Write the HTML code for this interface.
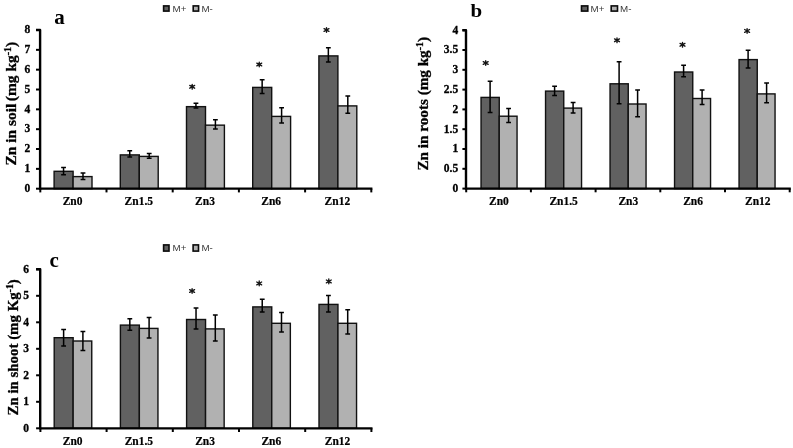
<!DOCTYPE html>
<html><head><meta charset="utf-8"><title>Zn charts</title>
<style>
html,body{margin:0;padding:0;background:#fff;}
body{width:793px;height:448px;overflow:hidden;font-family:"Liberation Serif",serif;}
svg{display:block;will-change:transform;opacity:0.999;}
.tk{font-family:"Liberation Serif",serif;font-weight:bold;font-size:11.5px;fill:#000;stroke:#000;stroke-width:0.3px;}
.xl{font-family:"Liberation Serif",serif;font-weight:bold;font-size:11.5px;fill:#000;stroke:#000;stroke-width:0.2px;}
.st{font-family:"Liberation Sans",sans-serif;font-size:15px;fill:#222;}
.lg{font-family:"Liberation Sans",sans-serif;font-size:8.9px;fill:#3a3a3a;}
.pl{font-family:"Liberation Serif",serif;font-weight:bold;font-size:21px;fill:#000;}
.yt{font-family:"Liberation Serif",serif;font-weight:bold;font-size:14.6px;fill:#000;stroke:#000;stroke-width:0.3px;}
</style></head><body>
<svg width="793" height="448" viewBox="0 0 793 448">
<rect width="793" height="448" fill="#fff"/>
<rect x="54.10" y="171.30" width="19.00" height="17.40" fill="#616161" stroke="#111" stroke-width="1.4"/>
<rect x="73.10" y="176.60" width="18.90" height="12.10" fill="#b1b1b1" stroke="#111" stroke-width="1.4"/>
<path d="M63.55 166.80V175.40M61.15 167.40h4.8M61.15 174.80h4.8" stroke="#000" stroke-width="1.5" fill="none"/>
<path d="M83.00 172.50V180.10M80.60 173.10h4.8M80.60 179.50h4.8" stroke="#000" stroke-width="1.5" fill="none"/>
<rect x="120.30" y="154.90" width="19.00" height="33.80" fill="#616161" stroke="#111" stroke-width="1.4"/>
<rect x="139.30" y="156.40" width="18.90" height="32.30" fill="#b1b1b1" stroke="#111" stroke-width="1.4"/>
<path d="M129.75 150.20V157.70M127.35 150.80h4.8M127.35 157.10h4.8" stroke="#000" stroke-width="1.5" fill="none"/>
<path d="M149.20 152.95V158.95M146.80 153.55h4.8M146.80 158.35h4.8" stroke="#000" stroke-width="1.5" fill="none"/>
<rect x="186.50" y="106.65" width="19.00" height="82.05" fill="#616161" stroke="#111" stroke-width="1.4"/>
<rect x="205.50" y="125.15" width="18.90" height="63.55" fill="#b1b1b1" stroke="#111" stroke-width="1.4"/>
<path d="M195.95 102.70V108.70M193.55 103.30h4.8M193.55 108.10h4.8" stroke="#000" stroke-width="1.5" fill="none"/>
<path d="M215.40 119.20V129.70M213.00 119.80h4.8M213.00 129.10h4.8" stroke="#000" stroke-width="1.5" fill="none"/>
<rect x="252.70" y="87.40" width="19.00" height="101.30" fill="#616161" stroke="#111" stroke-width="1.4"/>
<rect x="271.70" y="116.40" width="18.90" height="72.30" fill="#b1b1b1" stroke="#111" stroke-width="1.4"/>
<path d="M262.15 79.20V94.20M259.75 79.80h4.8M259.75 93.60h4.8" stroke="#000" stroke-width="1.5" fill="none"/>
<path d="M281.60 107.20V123.70M279.20 107.80h4.8M279.20 123.10h4.8" stroke="#000" stroke-width="1.5" fill="none"/>
<rect x="318.90" y="55.90" width="19.00" height="132.80" fill="#616161" stroke="#111" stroke-width="1.4"/>
<rect x="337.90" y="105.90" width="18.90" height="82.80" fill="#b1b1b1" stroke="#111" stroke-width="1.4"/>
<path d="M328.35 47.20V62.70M325.95 47.80h4.8M325.95 62.10h4.8" stroke="#000" stroke-width="1.5" fill="none"/>
<path d="M347.80 95.45V113.95M345.40 96.05h4.8M345.40 113.35h4.8" stroke="#000" stroke-width="1.5" fill="none"/>
<path d="M36.00 30.00H40.10V189.70" stroke="#000" stroke-width="2.4" stroke-linejoin="round" fill="none"/>
<path d="M39.30 188.70H372.40" stroke="#000" stroke-width="2.2"/>
<path d="M36.00 188.70H40.30" stroke="#000" stroke-width="2"/>
<text x="30.30" y="192.00" text-anchor="end" class="tk">0</text>
<path d="M36.00 168.86H40.30" stroke="#000" stroke-width="2"/>
<text x="30.30" y="172.16" text-anchor="end" class="tk">1</text>
<path d="M36.00 149.02H40.30" stroke="#000" stroke-width="2"/>
<text x="30.30" y="152.32" text-anchor="end" class="tk">2</text>
<path d="M36.00 129.19H40.30" stroke="#000" stroke-width="2"/>
<text x="30.30" y="132.49" text-anchor="end" class="tk">3</text>
<path d="M36.00 109.35H40.30" stroke="#000" stroke-width="2"/>
<text x="30.30" y="112.65" text-anchor="end" class="tk">4</text>
<path d="M36.00 89.51H40.30" stroke="#000" stroke-width="2"/>
<text x="30.30" y="92.81" text-anchor="end" class="tk">5</text>
<path d="M36.00 69.67H40.30" stroke="#000" stroke-width="2"/>
<text x="30.30" y="72.97" text-anchor="end" class="tk">6</text>
<path d="M36.00 49.84H40.30" stroke="#000" stroke-width="2"/>
<text x="30.30" y="53.14" text-anchor="end" class="tk">7</text>
<path d="M36.00 30.00H40.30" stroke="#000" stroke-width="2"/>
<text x="30.30" y="33.30" text-anchor="end" class="tk">8</text>
<path d="M40.30 188.70V192.40" stroke="#000" stroke-width="2"/>
<path d="M106.50 188.70V192.40" stroke="#000" stroke-width="2"/>
<path d="M172.70 188.70V192.40" stroke="#000" stroke-width="2"/>
<path d="M238.90 188.70V192.40" stroke="#000" stroke-width="2"/>
<path d="M305.10 188.70V192.40" stroke="#000" stroke-width="2"/>
<path d="M371.30 188.70V192.40" stroke="#000" stroke-width="2"/>
<text transform="translate(72.60,205.40) scale(1,1.06)" text-anchor="middle" class="xl">Zn0</text>
<text transform="translate(138.80,205.40) scale(1,1.06)" text-anchor="middle" class="xl">Zn1.5</text>
<text transform="translate(205.00,205.40) scale(1,1.06)" text-anchor="middle" class="xl">Zn3</text>
<text transform="translate(271.20,205.40) scale(1,1.06)" text-anchor="middle" class="xl">Zn6</text>
<text transform="translate(337.40,205.40) scale(1,1.06)" text-anchor="middle" class="xl">Zn12</text>
<path transform="translate(192.20,86.80)" d="M0 -2.35V2.35M-2.45 -1.4L2.45 1.4M-2.45 1.4L2.45 -1.4M-0.8 0H0.8" stroke="#151515" stroke-width="1.35" stroke-linecap="round" fill="none"/>
<path transform="translate(259.25,64.50)" d="M0 -2.35V2.35M-2.45 -1.4L2.45 1.4M-2.45 1.4L2.45 -1.4M-0.8 0H0.8" stroke="#151515" stroke-width="1.35" stroke-linecap="round" fill="none"/>
<path transform="translate(326.50,30.00)" d="M0 -2.35V2.35M-2.45 -1.4L2.45 1.4M-2.45 1.4L2.45 -1.4M-0.8 0H0.8" stroke="#151515" stroke-width="1.35" stroke-linecap="round" fill="none"/>
<rect x="481.05" y="97.40" width="18.20" height="91.20" fill="#616161" stroke="#111" stroke-width="1.4"/>
<rect x="499.25" y="116.20" width="17.80" height="72.40" fill="#b1b1b1" stroke="#111" stroke-width="1.4"/>
<path d="M490.10 80.60V113.00M487.70 81.20h4.8M487.70 112.40h4.8" stroke="#000" stroke-width="1.5" fill="none"/>
<path d="M508.60 108.00V123.10M506.20 108.60h4.8M506.20 122.50h4.8" stroke="#000" stroke-width="1.5" fill="none"/>
<rect x="545.55" y="91.10" width="18.20" height="97.50" fill="#616161" stroke="#111" stroke-width="1.4"/>
<rect x="563.75" y="108.10" width="17.80" height="80.50" fill="#b1b1b1" stroke="#111" stroke-width="1.4"/>
<path d="M554.60 85.60V96.20M552.20 86.20h4.8M552.20 95.60h4.8" stroke="#000" stroke-width="1.5" fill="none"/>
<path d="M573.10 101.80V113.50M570.70 102.40h4.8M570.70 112.90h4.8" stroke="#000" stroke-width="1.5" fill="none"/>
<rect x="610.05" y="83.80" width="18.20" height="104.80" fill="#616161" stroke="#111" stroke-width="1.4"/>
<rect x="628.25" y="104.00" width="17.80" height="84.60" fill="#b1b1b1" stroke="#111" stroke-width="1.4"/>
<path d="M619.10 61.20V104.30M616.70 61.80h4.8M616.70 103.70h4.8" stroke="#000" stroke-width="1.5" fill="none"/>
<path d="M637.60 89.40V117.30M635.20 90.00h4.8M635.20 116.70h4.8" stroke="#000" stroke-width="1.5" fill="none"/>
<rect x="674.55" y="72.00" width="18.20" height="116.60" fill="#616161" stroke="#111" stroke-width="1.4"/>
<rect x="692.75" y="98.50" width="17.80" height="90.10" fill="#b1b1b1" stroke="#111" stroke-width="1.4"/>
<path d="M683.60 64.70V77.30M681.20 65.30h4.8M681.20 76.70h4.8" stroke="#000" stroke-width="1.5" fill="none"/>
<path d="M702.10 89.40V105.10M699.70 90.00h4.8M699.70 104.50h4.8" stroke="#000" stroke-width="1.5" fill="none"/>
<rect x="739.05" y="59.60" width="18.20" height="129.00" fill="#616161" stroke="#111" stroke-width="1.4"/>
<rect x="757.25" y="93.90" width="17.80" height="94.70" fill="#b1b1b1" stroke="#111" stroke-width="1.4"/>
<path d="M748.10 49.60V68.50M745.70 50.20h4.8M745.70 67.90h4.8" stroke="#000" stroke-width="1.5" fill="none"/>
<path d="M766.60 82.40V103.30M764.20 83.00h4.8M764.20 102.70h4.8" stroke="#000" stroke-width="1.5" fill="none"/>
<path d="M462.40 30.20H466.00V189.60" stroke="#000" stroke-width="2.4" stroke-linejoin="round" fill="none"/>
<path d="M465.20 188.60H790.80" stroke="#000" stroke-width="2.2"/>
<path d="M462.40 188.60H466.20" stroke="#000" stroke-width="2"/>
<text x="458.20" y="191.90" text-anchor="end" class="tk">0</text>
<path d="M462.40 168.80H466.20" stroke="#000" stroke-width="2"/>
<text x="458.20" y="172.10" text-anchor="end" class="tk">0.5</text>
<path d="M462.40 149.00H466.20" stroke="#000" stroke-width="2"/>
<text x="458.20" y="152.30" text-anchor="end" class="tk">1</text>
<path d="M462.40 129.20H466.20" stroke="#000" stroke-width="2"/>
<text x="458.20" y="132.50" text-anchor="end" class="tk">1.5</text>
<path d="M462.40 109.40H466.20" stroke="#000" stroke-width="2"/>
<text x="458.20" y="112.70" text-anchor="end" class="tk">2</text>
<path d="M462.40 89.60H466.20" stroke="#000" stroke-width="2"/>
<text x="458.20" y="92.90" text-anchor="end" class="tk">2.5</text>
<path d="M462.40 69.80H466.20" stroke="#000" stroke-width="2"/>
<text x="458.20" y="73.10" text-anchor="end" class="tk">3</text>
<path d="M462.40 50.00H466.20" stroke="#000" stroke-width="2"/>
<text x="458.20" y="53.30" text-anchor="end" class="tk">3.5</text>
<path d="M462.40 30.20H466.20" stroke="#000" stroke-width="2"/>
<text x="458.20" y="33.50" text-anchor="end" class="tk">4</text>
<path d="M466.20 188.60V192.30" stroke="#000" stroke-width="2"/>
<path d="M530.90 188.60V192.30" stroke="#000" stroke-width="2"/>
<path d="M595.60 188.60V192.30" stroke="#000" stroke-width="2"/>
<path d="M660.30 188.60V192.30" stroke="#000" stroke-width="2"/>
<path d="M725.00 188.60V192.30" stroke="#000" stroke-width="2"/>
<path d="M789.70 188.60V192.30" stroke="#000" stroke-width="2"/>
<text transform="translate(498.95,205.40) scale(1,1.06)" text-anchor="middle" class="xl">Zn0</text>
<text transform="translate(563.65,205.40) scale(1,1.06)" text-anchor="middle" class="xl">Zn1.5</text>
<text transform="translate(628.35,205.40) scale(1,1.06)" text-anchor="middle" class="xl">Zn3</text>
<text transform="translate(693.05,205.40) scale(1,1.06)" text-anchor="middle" class="xl">Zn6</text>
<text transform="translate(757.75,205.40) scale(1,1.06)" text-anchor="middle" class="xl">Zn12</text>
<path transform="translate(485.70,63.00)" d="M0 -2.35V2.35M-2.45 -1.4L2.45 1.4M-2.45 1.4L2.45 -1.4M-0.8 0H0.8" stroke="#151515" stroke-width="1.35" stroke-linecap="round" fill="none"/>
<path transform="translate(617.00,40.30)" d="M0 -2.35V2.35M-2.45 -1.4L2.45 1.4M-2.45 1.4L2.45 -1.4M-0.8 0H0.8" stroke="#151515" stroke-width="1.35" stroke-linecap="round" fill="none"/>
<path transform="translate(682.50,44.80)" d="M0 -2.35V2.35M-2.45 -1.4L2.45 1.4M-2.45 1.4L2.45 -1.4M-0.8 0H0.8" stroke="#151515" stroke-width="1.35" stroke-linecap="round" fill="none"/>
<path transform="translate(747.10,30.90)" d="M0 -2.35V2.35M-2.45 -1.4L2.45 1.4M-2.45 1.4L2.45 -1.4M-0.8 0H0.8" stroke="#151515" stroke-width="1.35" stroke-linecap="round" fill="none"/>
<rect x="54.20" y="337.70" width="18.95" height="90.60" fill="#616161" stroke="#111" stroke-width="1.4"/>
<rect x="73.15" y="341.00" width="18.60" height="87.30" fill="#b1b1b1" stroke="#111" stroke-width="1.4"/>
<path d="M63.62 328.90V346.60M61.23 329.50h4.8M61.23 346.00h4.8" stroke="#000" stroke-width="1.5" fill="none"/>
<path d="M82.90 330.90V351.20M80.50 331.50h4.8M80.50 350.60h4.8" stroke="#000" stroke-width="1.5" fill="none"/>
<rect x="120.40" y="325.10" width="18.95" height="103.20" fill="#616161" stroke="#111" stroke-width="1.4"/>
<rect x="139.35" y="328.40" width="18.60" height="99.90" fill="#b1b1b1" stroke="#111" stroke-width="1.4"/>
<path d="M129.82 318.10V330.90M127.42 318.70h4.8M127.42 330.30h4.8" stroke="#000" stroke-width="1.5" fill="none"/>
<path d="M149.10 316.80V338.60M146.70 317.40h4.8M146.70 338.00h4.8" stroke="#000" stroke-width="1.5" fill="none"/>
<rect x="186.60" y="319.50" width="18.95" height="108.80" fill="#616161" stroke="#111" stroke-width="1.4"/>
<rect x="205.55" y="328.90" width="18.60" height="99.40" fill="#b1b1b1" stroke="#111" stroke-width="1.4"/>
<path d="M196.03 307.50V329.70M193.63 308.10h4.8M193.63 329.10h4.8" stroke="#000" stroke-width="1.5" fill="none"/>
<path d="M215.30 314.30V341.50M212.90 314.90h4.8M212.90 340.90h4.8" stroke="#000" stroke-width="1.5" fill="none"/>
<rect x="252.80" y="306.90" width="18.95" height="121.40" fill="#616161" stroke="#111" stroke-width="1.4"/>
<rect x="271.75" y="323.30" width="18.60" height="105.00" fill="#b1b1b1" stroke="#111" stroke-width="1.4"/>
<path d="M262.23 298.70V312.50M259.83 299.30h4.8M259.83 311.90h4.8" stroke="#000" stroke-width="1.5" fill="none"/>
<path d="M281.50 311.80V332.70M279.10 312.40h4.8M279.10 332.10h4.8" stroke="#000" stroke-width="1.5" fill="none"/>
<rect x="319.00" y="304.40" width="18.95" height="123.90" fill="#616161" stroke="#111" stroke-width="1.4"/>
<rect x="337.95" y="323.30" width="18.60" height="105.00" fill="#b1b1b1" stroke="#111" stroke-width="1.4"/>
<path d="M328.43 294.90V312.50M326.03 295.50h4.8M326.03 311.90h4.8" stroke="#000" stroke-width="1.5" fill="none"/>
<path d="M347.70 309.20V334.50M345.30 309.80h4.8M345.30 333.90h4.8" stroke="#000" stroke-width="1.5" fill="none"/>
<path d="M36.10 269.30H40.20V429.30" stroke="#000" stroke-width="2.4" stroke-linejoin="round" fill="none"/>
<path d="M39.40 428.30H372.50" stroke="#000" stroke-width="2.2"/>
<path d="M36.10 428.30H40.40" stroke="#000" stroke-width="2"/>
<text x="29.10" y="431.60" text-anchor="end" class="tk">0</text>
<path d="M36.10 401.80H40.40" stroke="#000" stroke-width="2"/>
<text x="29.10" y="405.10" text-anchor="end" class="tk">1</text>
<path d="M36.10 375.30H40.40" stroke="#000" stroke-width="2"/>
<text x="29.10" y="378.60" text-anchor="end" class="tk">2</text>
<path d="M36.10 348.80H40.40" stroke="#000" stroke-width="2"/>
<text x="29.10" y="352.10" text-anchor="end" class="tk">3</text>
<path d="M36.10 322.30H40.40" stroke="#000" stroke-width="2"/>
<text x="29.10" y="325.60" text-anchor="end" class="tk">4</text>
<path d="M36.10 295.80H40.40" stroke="#000" stroke-width="2"/>
<text x="29.10" y="299.10" text-anchor="end" class="tk">5</text>
<path d="M36.10 269.30H40.40" stroke="#000" stroke-width="2"/>
<text x="29.10" y="272.60" text-anchor="end" class="tk">6</text>
<path d="M40.40 428.30V432.00" stroke="#000" stroke-width="2"/>
<path d="M106.60 428.30V432.00" stroke="#000" stroke-width="2"/>
<path d="M172.80 428.30V432.00" stroke="#000" stroke-width="2"/>
<path d="M239.00 428.30V432.00" stroke="#000" stroke-width="2"/>
<path d="M305.20 428.30V432.00" stroke="#000" stroke-width="2"/>
<path d="M371.40 428.30V432.00" stroke="#000" stroke-width="2"/>
<text transform="translate(72.70,444.90) scale(1,1.06)" text-anchor="middle" class="xl">Zn0</text>
<text transform="translate(138.90,444.90) scale(1,1.06)" text-anchor="middle" class="xl">Zn1.5</text>
<text transform="translate(205.10,444.90) scale(1,1.06)" text-anchor="middle" class="xl">Zn3</text>
<text transform="translate(271.30,444.90) scale(1,1.06)" text-anchor="middle" class="xl">Zn6</text>
<text transform="translate(337.50,444.90) scale(1,1.06)" text-anchor="middle" class="xl">Zn12</text>
<path transform="translate(192.10,291.00)" d="M0 -2.35V2.35M-2.45 -1.4L2.45 1.4M-2.45 1.4L2.45 -1.4M-0.8 0H0.8" stroke="#151515" stroke-width="1.35" stroke-linecap="round" fill="none"/>
<path transform="translate(259.20,283.40)" d="M0 -2.35V2.35M-2.45 -1.4L2.45 1.4M-2.45 1.4L2.45 -1.4M-0.8 0H0.8" stroke="#151515" stroke-width="1.35" stroke-linecap="round" fill="none"/>
<path transform="translate(328.80,281.40)" d="M0 -2.35V2.35M-2.45 -1.4L2.45 1.4M-2.45 1.4L2.45 -1.4M-0.8 0H0.8" stroke="#151515" stroke-width="1.35" stroke-linecap="round" fill="none"/>
<rect x="162.80" y="5.10" width="7.00" height="6.80" fill="#0a0a0a"/>
<rect x="164.40" y="6.70" width="3.80" height="3.60" fill="#616161"/>
<rect x="192.40" y="5.10" width="7.00" height="6.80" fill="#0a0a0a"/>
<rect x="194.00" y="6.70" width="3.80" height="3.60" fill="#b1b1b1"/>
<text transform="translate(172.60,11.90) scale(1.1,1)" class="lg">M+</text>
<text transform="translate(201.40,11.90) scale(1.1,1)" class="lg">M-</text>
<rect x="580.70" y="5.10" width="7.90" height="6.80" fill="#0a0a0a"/>
<rect x="582.30" y="6.70" width="4.70" height="3.60" fill="#616161"/>
<rect x="610.40" y="5.10" width="7.90" height="6.80" fill="#0a0a0a"/>
<rect x="612.00" y="6.70" width="4.70" height="3.60" fill="#b1b1b1"/>
<text transform="translate(590.50,11.90) scale(1.1,1)" class="lg">M+</text>
<text transform="translate(620.00,11.90) scale(1.1,1)" class="lg">M-</text>
<rect x="162.80" y="244.10" width="7.00" height="7.80" fill="#0a0a0a"/>
<rect x="164.40" y="245.70" width="3.80" height="4.60" fill="#616161"/>
<rect x="192.30" y="244.10" width="7.00" height="7.80" fill="#0a0a0a"/>
<rect x="193.90" y="245.70" width="3.80" height="4.60" fill="#b1b1b1"/>
<text transform="translate(172.60,251.30) scale(1.1,1)" class="lg">M+</text>
<text transform="translate(201.40,251.30) scale(1.1,1)" class="lg">M-</text>
<text x="54.2" y="23.8" class="pl">a</text>
<text transform="translate(470.5,16.5) scale(1,0.9)" class="pl">b</text>
<text x="49.5" y="267.0" class="pl">c</text>
<text transform="translate(15.5,103.6) rotate(-90) scale(1.058,1)" text-anchor="middle" class="yt">Zn in soil<tspan dx="2.4">(</tspan>mg kg<tspan dy="-5" font-size="9.5">-1</tspan><tspan dy="5">)</tspan></text>
<text transform="translate(428.3,103.75) rotate(-90) scale(1.04,1)" text-anchor="middle" class="yt">Zn in roots (mg kg<tspan dy="-5" font-size="9.5">-1</tspan><tspan dy="5">)</tspan></text>
<text transform="translate(17.5,347.4) rotate(-90) scale(1.02,1)" text-anchor="middle" class="yt">Zn in shoot (mg Kg<tspan dy="-5" font-size="9.5">-1</tspan><tspan dy="5">)</tspan></text>
</svg>
</body></html>
